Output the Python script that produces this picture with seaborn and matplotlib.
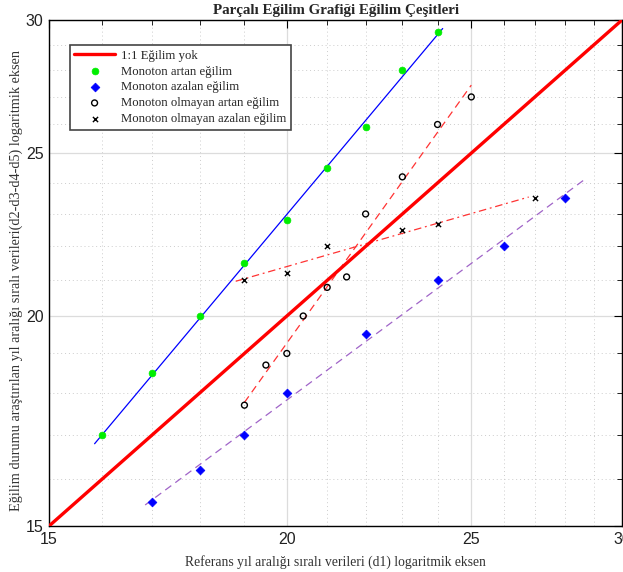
import numpy as np
import pandas as pd
import matplotlib
matplotlib.use("Agg")
import matplotlib.pyplot as plt
from matplotlib.ticker import FixedLocator, NullFormatter, FixedFormatter
import seaborn as sns

# Series values (d1 reference vs. d2..d5 observed)
artan_x = [16, 17, 18, 19, 20, 21, 22, 23, 24]
artan_y = [17.0, 18.5, 20.0, 21.5, 22.8, 24.5, 25.9, 28.0, 29.5]

azalan_x = [17, 18, 19, 20, 22, 24, 26, 28]
azalan_y = [15.5, 16.2, 17.0, 18.0, 19.5, 21.0, 22.0, 23.5]

olm_artan_x = [19, 19.5, 20, 20.4, 21, 21.5, 22, 23, 24, 25]
olm_artan_y = [17.7, 18.7, 19.0, 20.0, 20.8, 21.1, 23.0, 24.2, 26.0, 27.0]

olm_azalan_x = [19, 20, 21, 23, 24, 27]
olm_azalan_y = [21.0, 21.2, 22.0, 22.5, 22.7, 23.5]

ref_line = [15, 30]
major_ticks = [15, 20, 25, 30]
minor_ticks = [v for v in range(16, 30) if v not in major_ticks]

sns.set_style("white")
plt.rcParams["font.family"] = ["Liberation Serif", "DejaVu Serif"]

fig = plt.figure(figsize=(6.23, 5.72), dpi=100)
ax = fig.add_axes([0.0787, 0.0804, 0.9197, 0.8846])
ax.set_xscale("log")
ax.set_yscale("log")


def fit_line(xs, ys, x0, x1):
    k, b = np.polyfit(np.log(xs), np.log(ys), 1)
    xx = np.linspace(x0, x1, 50)
    return pd.DataFrame({"x": xx, "y": np.exp(b) * xx ** k})


# 1:1 reference
sns.lineplot(x=ref_line, y=ref_line, ax=ax, color="#ff0000", lw=2.4,
             label="1:1 Eğilim yok", zorder=4)

# fitted trend lines
f1 = fit_line(artan_x, artan_y, 15.85, 24.15)
sns.lineplot(data=f1, x="x", y="y", ax=ax, color="#0000ff", lw=0.9,
             legend=False, zorder=3)
f2 = fit_line(azalan_x, azalan_y, 16.85, 28.7)
sns.lineplot(data=f2, x="x", y="y", ax=ax, color="#a064c8", lw=0.9,
             legend=False, zorder=3).lines[-1].set_dashes([6, 4])
f3 = fit_line(olm_artan_x, olm_artan_y, 19.0, 25.0)
sns.lineplot(data=f3, x="x", y="y", ax=ax, color="#ff3333", lw=0.9,
             legend=False, zorder=3).lines[-1].set_dashes([6, 4])
f4 = fit_line(olm_azalan_x, olm_azalan_y, 18.8, 26.8)
sns.lineplot(data=f4, x="x", y="y", ax=ax, color="#ff3333", lw=0.9,
             legend=False, zorder=3).lines[-1].set_dashes([6, 3, 1.5, 3])

# observations
sns.scatterplot(x=artan_x, y=artan_y, ax=ax, color="#00ee00", marker="o",
                s=24, edgecolor="#00ee00", linewidth=0.5,
                label="Monoton artan eğilim", zorder=5)
sns.scatterplot(x=azalan_x, y=azalan_y, ax=ax, color="#0000ff", marker="D",
                s=20, edgecolor="#0000ff", linewidth=0.5,
                label="Monoton azalan eğilim", zorder=5)
sns.scatterplot(x=olm_artan_x, y=olm_artan_y, ax=ax, facecolor="none",
                marker="o", s=18, edgecolor="black", linewidth=1.0,
                label="Monoton olmayan artan eğilim", zorder=5)
sns.scatterplot(x=olm_azalan_x, y=olm_azalan_y, ax=ax, color="black",
                marker="x", s=14, linewidth=1.0,
                label="Monoton olmayan azalan eğilim", zorder=5)

ax.set_xlim(15, 30)
ax.set_ylim(15, 30)

for axis in (ax.xaxis, ax.yaxis):
    axis.set_major_locator(FixedLocator(major_ticks))
    axis.set_major_formatter(FixedFormatter([str(t) for t in major_ticks]))
    axis.set_minor_locator(FixedLocator(minor_ticks))
    axis.set_minor_formatter(NullFormatter())

ax.grid(which="major", color="#dcdcdc", lw=0.9, ls="-")
ax.grid(which="minor", color="#cccccc", lw=0.7, ls=(0, (1, 3)))
ax.set_axisbelow(True)

ax.tick_params(which="both", direction="in", top=True, right=True,
               colors="black")
ax.tick_params(which="major", length=6, width=0.8, labelsize=11.5, pad=4)
ax.tick_params(which="minor", length=3.5, width=0.6)
for lbl in ax.get_xticklabels() + ax.get_yticklabels():
    lbl.set_family(["Liberation Sans", "DejaVu Sans"])
    lbl.set_color("#222222")

for sp in ax.spines.values():
    sp.set_color("black")
    sp.set_linewidth(1.0)

ax.set_title("Parçalı Eğilim Grafiği Eğilim Çeşitleri", fontsize=10.8,
             fontweight="bold", pad=4)
ax.set_xlabel("Referans yıl aralığı sıralı verileri (d1) logaritmik eksen",
              fontsize=9.8, color="#333333", labelpad=6)
ax.set_ylabel("Eğilim durumu araştırılan yıl aralığı sıralı verileri"
              "(d2-d3-d4-d5) logaritmik eksen",
              fontsize=10.3, color="#333333")
ax.yaxis.set_label_coords(-0.046, 0.486)

leg = ax.legend(loc="upper left", bbox_to_anchor=(0.036, 0.95),
                fontsize=9.2, frameon=True, fancybox=False, framealpha=1,
                edgecolor="#444444", borderpad=0.35, labelspacing=0.3,
                handlelength=3.2, handletextpad=0.5, borderaxespad=0)
leg.get_frame().set_linewidth(1.2)

fig.savefig("out.png", dpi=100)
